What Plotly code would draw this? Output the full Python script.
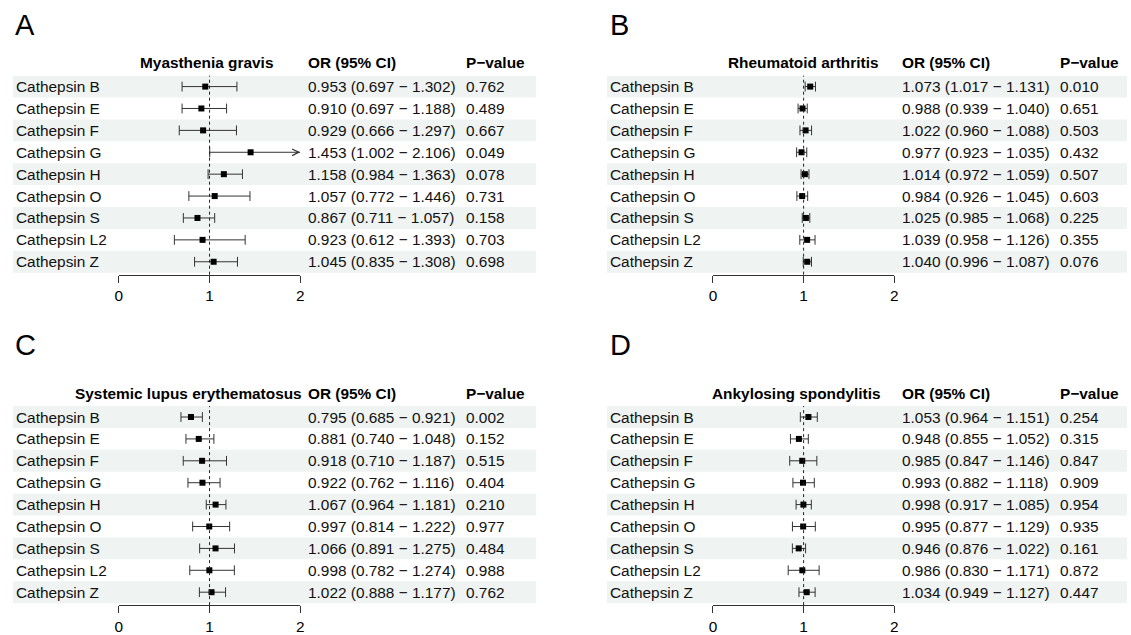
import plotly.graph_objects as go

# ---------------- data ----------------
cathepsins = ["Cathepsin B", "Cathepsin E", "Cathepsin F", "Cathepsin G", "Cathepsin H",
              "Cathepsin O", "Cathepsin S", "Cathepsin L2", "Cathepsin Z"]

mg_or = [0.953, 0.910, 0.929, 1.453, 1.158, 1.057, 0.867, 0.923, 1.045]
mg_lo = [0.697, 0.697, 0.666, 1.002, 0.984, 0.772, 0.711, 0.612, 0.835]
mg_hi = [1.302, 1.188, 1.297, 2.106, 1.363, 1.446, 1.057, 1.393, 1.308]
mg_p = [0.762, 0.489, 0.667, 0.049, 0.078, 0.731, 0.158, 0.703, 0.698]

ra_or = [1.073, 0.988, 1.022, 0.977, 1.014, 0.984, 1.025, 1.039, 1.040]
ra_lo = [1.017, 0.939, 0.960, 0.923, 0.972, 0.926, 0.985, 0.958, 0.996]
ra_hi = [1.131, 1.040, 1.088, 1.035, 1.059, 1.045, 1.068, 1.126, 1.087]
ra_p = [0.010, 0.651, 0.503, 0.432, 0.507, 0.603, 0.225, 0.355, 0.076]

sle_or = [0.795, 0.881, 0.918, 0.922, 1.067, 0.997, 1.066, 0.998, 1.022]
sle_lo = [0.685, 0.740, 0.710, 0.762, 0.964, 0.814, 0.891, 0.782, 0.888]
sle_hi = [0.921, 1.048, 1.187, 1.116, 1.181, 1.222, 1.275, 1.274, 1.177]
sle_p = [0.002, 0.152, 0.515, 0.404, 0.210, 0.977, 0.484, 0.988, 0.762]

as_or = [1.053, 0.948, 0.985, 0.993, 0.998, 0.995, 0.946, 0.986, 1.034]
as_lo = [0.964, 0.855, 0.847, 0.882, 0.917, 0.877, 0.876, 0.830, 0.949]
as_hi = [1.151, 1.052, 1.146, 1.118, 1.085, 1.129, 1.022, 1.171, 1.127]
as_p = [0.254, 0.315, 0.847, 0.909, 0.954, 0.935, 0.161, 0.872, 0.447]

panel_letters = ["A", "B", "C", "D"]
panel_titles = ["Myasthenia gravis", "Rheumatoid arthritis",
                "Systemic lupus erythematosus", "Ankylosing spondylitis"]
x_ticks = [0, 1, 2]
x_range = [0, 2]
header_or = "OR (95% CI)"
header_p = "P\u2212value"

# ---------------- layout geometry (pixels) ----------------
W, H = 1131, 635
FONT = "Liberation Sans, Arial, sans-serif"
FS = 15.4
TXT = "#111111"
SHADE = "#eff3f2"
LINE = "#333333"
ROW_H = 22.0
PAD = 3.0  # annotation inner padding

panel_geo = [
    dict(dx=0.0, dy=0.0, title_x=137.5, letter_y=25.5),
    dict(dx=598.3, dy=0.0, title_x=730.5, letter_y=25.5),
    dict(dx=0.0, dy=332.0, title_x=72.5, letter_y=347.0),
    dict(dx=598.3, dy=332.0, title_x=714.0, letter_y=347.0),
]
panel_data = [
    (mg_or, mg_lo, mg_hi, mg_p),
    (ra_or, ra_lo, ra_hi, ra_p),
    (sle_or, sle_lo, sle_hi, sle_p),
    (as_or, as_lo, as_hi, as_p),
]

def px(x):
    return x / W

def py(y):
    return 1 - y / H

fig = go.Figure()
shapes = []
annotations = []
layout_axes = {}

n = len(cathepsins)
rows = list(range(n))

for k in range(4):
    g = panel_geo[k]
    orv, lov, hiv, pv = panel_data[k]
    dx, dy = g["dx"], g["dy"]
    idx = "" if k == 0 else str(k + 1)
    xa, ya = "x" + idx, "y" + idx

    band_top = 76.0 + dy
    axis_y = 276.0 + dy
    ax0 = 115.7 + dx
    ax2 = 298.3 + dx

    layout_axes["xaxis" + idx] = dict(
        domain=[px(ax0), px(ax2)], range=x_range, anchor=ya,
        tickvals=x_ticks, ticktext=[str(t) for t in x_ticks],
        showline=True, linecolor=LINE, linewidth=1,
        ticks="outside", ticklen=7, tickwidth=1, tickcolor=LINE,
        showgrid=False, zeroline=False, fixedrange=True,
        tickfont=dict(family=FONT, size=FS, color="#000000"),
    )
    layout_axes["yaxis" + idx] = dict(
        domain=[py(axis_y), py(band_top)],
        range=[-0.5 + (axis_y - band_top) / ROW_H, -0.5], anchor=xa,
        visible=False, showgrid=False, zeroline=False, fixedrange=True,
    )

    # row shading (every other row)
    for i in rows:
        if i % 2 == 0:
            shapes.append(dict(type="rect", xref="paper", yref=ya,
                               x0=px(9 + dx), x1=min(px(536 + dx), 1.0),
                               y0=i - 0.5, y1=i + 0.5,
                               fillcolor=SHADE, line=dict(width=0), layer="below"))

    # reference line at OR = 1
    shapes.append(dict(type="line", xref=xa, yref=ya + " domain",
                       x0=1, x1=1, y0=0, y1=1,
                       line=dict(color="#222222", width=1, dash="3px,3px")))

    # CI segments (clipped to axis range)
    seg_x, seg_y = [], []
    cap_x, cap_y = [], []
    for i in rows:
        lo_c = max(lov[i], x_range[0])
        hi_c = min(hiv[i], x_range[1])
        seg_x += [lo_c, hi_c, None]
        seg_y += [i, i, None]
        if lov[i] >= x_range[0]:
            cap_x.append(lov[i]); cap_y.append(i)
        if hiv[i] <= x_range[1]:
            cap_x.append(hiv[i]); cap_y.append(i)
        if hiv[i] > x_range[1]:
            annotations.append(dict(
                x=x_range[1], y=i, xref=xa, yref=ya,
                ax=x_range[1] - 0.05, ay=i, axref=xa, ayref=ya,
                text="", showarrow=True, arrowhead=5, arrowsize=1.3,
                arrowwidth=1, arrowcolor=LINE, standoff=0, startstandoff=0))

    fig.add_trace(go.Scatter(x=seg_x, y=seg_y, xaxis=xa, yaxis=ya, mode="lines",
                             line=dict(color=LINE, width=1), hoverinfo="skip",
                             showlegend=False, cliponaxis=False))
    fig.add_trace(go.Scatter(x=cap_x, y=cap_y, xaxis=xa, yaxis=ya, mode="markers",
                             marker=dict(symbol="line-ns", size=7,
                                         line=dict(color=LINE, width=1)),
                             hoverinfo="skip", showlegend=False, cliponaxis=False))
    fig.add_trace(go.Scatter(x=orv, y=rows, xaxis=xa, yaxis=ya, mode="markers",
                             marker=dict(symbol="square", size=6, color="#000000",
                                         line=dict(width=0)),
                             showlegend=False, cliponaxis=False,
                             customdata=list(zip(lov, hiv)),
                             hovertemplate="%{text}<br>OR %{x:.3f} (%{customdata[0]:.3f}-%{customdata[1]:.3f})<extra></extra>",
                             text=cathepsins))

    # table text
    for i in rows:
        annotations.append(dict(x=px(13 + dx - PAD), y=i, xref="paper", yref=ya,
                                text=cathepsins[i], showarrow=False,
                                xanchor="left", yanchor="middle",
                                font=dict(family=FONT, size=FS, color=TXT)))
        annotations.append(dict(x=px(307 + dx - PAD), y=i, xref="paper", yref=ya,
                                text=f"{orv[i]:.3f} ({lov[i]:.3f} \u2212 {hiv[i]:.3f})",
                                showarrow=False, xanchor="left", yanchor="middle",
                                font=dict(family=FONT, size=FS, color=TXT)))
        annotations.append(dict(x=px(466 + dx - PAD), y=i, xref="paper", yref=ya,
                                text=f"{pv[i]:.3f}", showarrow=False,
                                xanchor="left", yanchor="middle",
                                font=dict(family=FONT, size=FS, color=TXT)))

    # headers
    hy = py(63.0 + dy)
    annotations.append(dict(x=px(g["title_x"] - PAD), y=hy, xref="paper", yref="paper",
                            text="<b>" + panel_titles[k] + "</b>", showarrow=False,
                            xanchor="left", yanchor="middle",
                            font=dict(family=FONT, size=FS, color="#000000")))
    annotations.append(dict(x=px(307 + dx - PAD), y=hy, xref="paper", yref="paper",
                            text="<b>" + header_or + "</b>", showarrow=False,
                            xanchor="left", yanchor="middle",
                            font=dict(family=FONT, size=FS, color="#000000")))
    annotations.append(dict(x=px(466 + dx - PAD), y=hy, xref="paper", yref="paper",
                            text="<b>" + header_p + "</b>", showarrow=False,
                            xanchor="left", yanchor="middle",
                            font=dict(family=FONT, size=FS, color="#000000")))
    # panel letter
    annotations.append(dict(x=px(12.5 + dx - PAD), y=py(g["letter_y"]), xref="paper", yref="paper",
                            text=panel_letters[k], showarrow=False,
                            xanchor="left", yanchor="middle",
                            font=dict(family=FONT, size=29, color="#000000")))

fig.update_layout(
    width=W, height=H,
    margin=dict(l=0, r=0, t=0, b=0),
    paper_bgcolor="white", plot_bgcolor="rgba(0,0,0,0)",
    showlegend=False,
    shapes=shapes, annotations=annotations,
    **layout_axes,
)

fig.write_html("out.html", config={"displayModeBar": False},
               post_script="document.body.style.margin='0';document.body.style.overflow='hidden';")
